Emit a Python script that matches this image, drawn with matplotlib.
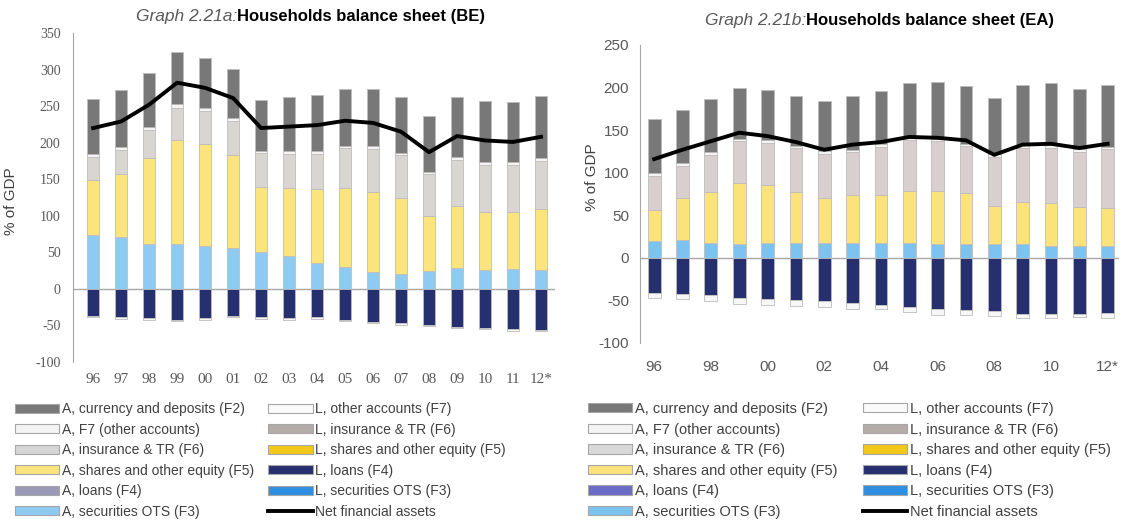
import numpy as np
import matplotlib
matplotlib.use("Agg")
import matplotlib.pyplot as plt
from matplotlib.patches import Patch
from matplotlib.lines import Line2D

plt.rcParams["axes.unicode_minus"] = False

# years on the x axis
years = ["96", "97", "98", "99", "00", "01", "02", "03", "04", "05",
         "06", "07", "08", "09", "10", "11", "12*"]

# --- Belgium (% of GDP) ---
be_sec = [74, 71, 62, 62, 59, 56, 51, 45, 35, 30, 23, 21, 24, 29, 26, 27, 26]
be_loans_a = [0, 0, 0, 0, 0, 0, 0, 0, 0, 0, 0, 0, 0, 0, 0, 0, 0]
be_shares = [75, 86, 117, 141, 139, 127, 89, 93, 102, 108, 110, 103, 76, 85, 79, 78, 83]
be_ins = [32, 33, 38, 44, 45, 47, 46, 47, 48, 55, 59, 59, 57, 62, 64, 64, 66]
be_f7 = [3, 4, 4, 6, 5, 4, 3, 3, 3, 3, 3, 3, 3, 4, 4, 4, 4]
be_f2 = [76, 78, 74, 71, 68, 67, 70, 74, 77, 77, 78, 76, 77, 82, 84, 83, 85]
be_l_loans = [-37, -39, -40, -42, -40, -37, -39, -40, -39, -42, -45, -47, -49, -52, -53, -55, -56]
be_l_other = [-2, -2, -2, -2, -2, -2, -2, -2, -2, -2, -2, -2, -2, -2, -2, -2, -2]
be_net = [220, 229, 252, 282, 275, 261, 220, 222, 224, 230, 227, 215, 187, 209, 203, 201, 208]

# --- Euro area (% of GDP) ---
ea_sec = [19.5, 20.5, 17.5, 16.5, 17, 17.5, 17.5, 17, 17.5, 17, 16, 16, 16, 16, 14.5, 14.5, 14.5]
ea_loans_a = [0, 0, 0, 0, 0, 0, 0, 0, 0, 0, 0, 0, 0, 0, 0, 0, 0]
ea_shares = [37, 49.5, 60, 71.5, 68, 60, 53, 57, 56, 62, 63, 60, 45, 50, 50, 45, 44]
ea_ins = [40, 38, 43.5, 49, 50, 51, 52, 50, 57, 60, 58, 55, 58, 63, 65, 65, 69]
ea_f7 = [3, 3, 3, 3, 3, 3, 3, 3, 3, 3, 3, 3, 3, 3, 3, 3, 3]
ea_f2 = [63, 63, 63, 59, 59, 59, 59, 63, 62, 63, 66, 68, 66, 71, 73, 71, 73]
ea_l_loans = [-41, -42.5, -44, -47, -48, -50, -51, -53, -55, -58, -60, -61, -63, -66, -66, -66, -65]
ea_l_other = [-6, -6, -7, -7, -7, -6, -7, -7, -5, -6, -7, -6, -5, -5, -5, -4, -6]
ea_net = [116, 127, 137, 147, 143, 136, 127, 133, 136, 142, 141, 138, 121, 133, 134, 129, 134]

legend_labels = ["A, currency and deposits (F2)", "A, F7 (other accounts)",
                 "A, insurance & TR (F6)", "A, shares and other equity (F5)",
                 "A, loans (F4)", "A, securities OTS (F3)",
                 "L, other accounts (F7)", "L, insurance & TR (F6)",
                 "L, shares and other equity (F5)", "L, loans (F4)",
                 "L, securities OTS (F3)", "Net financial assets"]

GREY_TXT = "#595959"
EDGE = "#bdbdbd"


def panel(ax, sec, loans_a, shares, ins, f7, f2, l_loans, l_other, net,
          cols, ylim, yticks, tick_font, xstep):
    x = np.arange(len(years))
    w = 0.45
    bottom = np.zeros(len(years))
    for vals, c in [(sec, cols["sec"]), (loans_a, cols["loans_a"]),
                    (shares, cols["shares"]), (ins, cols["ins"]),
                    (f7, cols["f7"]), (f2, cols["f2"])]:
        v = np.array(vals, dtype=float)
        lw = 0.6 if v.any() else 0
        ax.bar(x, v, w, bottom=bottom, color=c, edgecolor=EDGE, linewidth=lw, zorder=2)
        bottom = bottom + v
    nb = np.zeros(len(years))
    for vals, c in [(l_loans, cols["l_loans"]), (l_other, cols["l_other"])]:
        v = np.array(vals, dtype=float)
        ax.bar(x, v, w, bottom=nb, color=c, edgecolor=EDGE, linewidth=0.6, zorder=2)
        nb = nb + v
    ax.plot(x, net, color="black", lw=2.8, zorder=3, solid_joinstyle="round")
    ax.axhline(0, color="#a6a6a6", lw=1, zorder=1)
    ax.set_ylim(*ylim)
    ax.set_yticks(yticks)
    ax.set_xticks(x[::xstep])
    ax.set_xticklabels(years[::xstep])
    for s in ["top", "right", "bottom"]:
        ax.spines[s].set_visible(False)
    ax.spines["left"].set_color("#a6a6a6")
    ax.tick_params(length=0, colors=GREY_TXT)
    for t in ax.get_yticklabels() + ax.get_xticklabels():
        t.set_fontfamily(tick_font[0])
    ax.set_ylabel("% of GDP", fontsize=11, color="#404040", family="Liberation Sans")


fig = plt.figure(figsize=(11.34, 5.29), dpi=100)

be_cols = {"sec": "#8ecbf2", "loans_a": "#9a9ab8", "shares": "#fbe47e",
           "ins": "#d9d5d1", "f7": "#f4f4f4", "f2": "#787878",
           "l_loans": "#27306f", "l_other": "#f7f7f7"}
ea_cols = {"sec": "#7cc3f0", "loans_a": "#6b6bc8", "shares": "#fbe27a",
           "ins": "#d9cfcf", "f7": "#f4f4f4", "f2": "#787878",
           "l_loans": "#27306f", "l_other": "#f7f7f7"}

ax1 = fig.add_axes([73 / 1134, 1 - 362 / 529, 482 / 1134, 329 / 529])
panel(ax1, be_sec, be_loans_a, be_shares, be_ins, be_f7, be_f2, be_l_loans,
      be_l_other, be_net, be_cols, (-100, 350), np.arange(-100, 351, 50),
      ["Liberation Serif"], 1)
ax1.set_xlim(-0.72, 16.5)
ax1.tick_params(axis="y", labelsize=10, pad=9)
ax1.tick_params(axis="x", labelsize=11, pad=8)
ax1.yaxis.set_label_coords(-0.114, 0.49)

ax2 = fig.add_axes([640 / 1134, 1 - 343 / 529, 479 / 1134, 298 / 529])
panel(ax2, ea_sec, ea_loans_a, ea_shares, ea_ins, ea_f7, ea_f2, ea_l_loans,
      ea_l_other, ea_net, ea_cols, (-100, 250), np.arange(-100, 251, 50),
      ["Liberation Sans"], 2)
ax2.set_xlim(-0.5, 16.4)
ax2.tick_params(axis="y", labelsize=11, pad=8)
ax2.tick_params(axis="x", labelsize=11, pad=12)
ax2.yaxis.set_label_coords(-0.086, 0.557)

# titles: italic grey prefix + bold black title
for bx, by, pre, main in [(237, 17, "Graph 2.21a:", "Households balance sheet (BE)"),
                          (806, 21, "Graph 2.21b:", "Households balance sheet (EA)")]:
    fig.text(bx / 1134, 1 - by / 529, pre, style="italic", color=GREY_TXT,
             fontsize=12.5, ha="right", va="center", family="Liberation Sans")
    fig.text(bx / 1134, 1 - by / 529, main, weight="bold",
             fontsize=12, ha="left", va="center", family="Liberation Sans")


def legend_handles(cols, a_ins_col):
    order = [cols["f2"], "#f4f4f4", a_ins_col, cols["shares"], cols["loans_a"], cols["sec"],
             "#fafafa", "#b4aca8", "#f2c81a", cols["l_loans"], "#2e8fe0"]
    hs = [Patch(facecolor=c, edgecolor="#a6a6a6", lw=0.8) for c in order]
    hs.append(Line2D([], [], color="black", lw=2.8))
    return hs


for hx, cols, ic, fs, cs in [(15, be_cols, "#d6d6d6", 10, 1.0),
                             (588, ea_cols, "#d9d9d9", 10.5, 1.7)]:
    fig.legend(legend_handles(cols, ic), legend_labels, ncol=2,
               loc="upper left", bbox_to_anchor=(hx / 1134, 1 - 402 / 529),
               frameon=False, handlelength=3.2 * 10 / fs, handleheight=0.6,
               handletextpad=0.2, columnspacing=cs, labelspacing=0.47 * 10 / fs,
               borderpad=0, borderaxespad=0, labelcolor="#404040",
               prop={"family": "Liberation Sans", "size": fs})

fig.savefig("out.png", dpi=100)
